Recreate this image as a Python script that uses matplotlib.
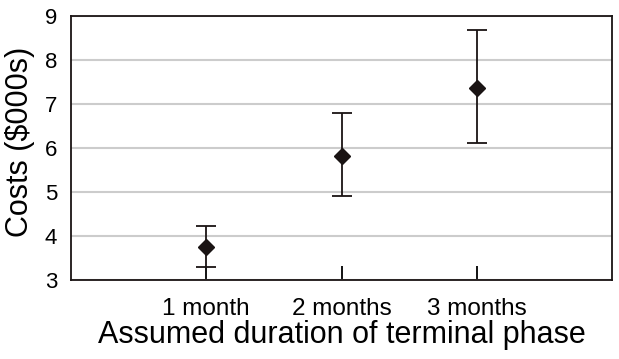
import matplotlib
matplotlib.use("Agg")
import matplotlib.pyplot as plt

categories = ["1 month", "2 months", "3 months"]
means = [3.76, 5.82, 7.36]
upper = [4.23, 6.80, 8.68]
lower = [3.29, 4.92, 6.11]
yticks = [3, 4, 5, 6, 7, 8, 9]

plt.rcParams['font.family'] = ['Liberation Sans', 'DejaVu Sans']

fig = plt.figure(figsize=(6.19, 3.59), dpi=100)
ax = fig.add_axes([0.1147, 0.22, 0.874, 0.7354])

x = list(range(1, len(categories) + 1))
err_low = [m - l for m, l in zip(means, lower)]
err_up = [u - m for m, u in zip(means, upper)]
ax.errorbar(x, means, yerr=[err_low, err_up], fmt='D', color='#1a1414',
            ecolor='#1a1414', elinewidth=1.3, capsize=7.5, capthick=1.3,
            markersize=8, zorder=3)

ax.set_xlim(0, 4)
ax.set_ylim(3, 9)
ax.set_yticks(yticks)
ax.set_xticks(x)
ax.set_xticklabels(categories)
ax.yaxis.grid(True, color='#cccccc', linewidth=1.5)
ax.set_axisbelow(True)
ax.tick_params(axis='y', length=0, pad=10, labelsize=16)
ax.tick_params(axis='x', direction='in', length=10, width=1.3, pad=13, labelsize=17.5)
for s in ax.spines.values():
    s.set_linewidth(1.3)
    s.set_color('#1a1414')

ax.set_xlabel("Assumed duration of terminal phase", fontsize=22, labelpad=0)
ax.set_ylabel("Costs ($000s)", fontsize=22)
ax.yaxis.set_label_coords(-0.066, 0.523)

fig.savefig("out.png", dpi=100)
